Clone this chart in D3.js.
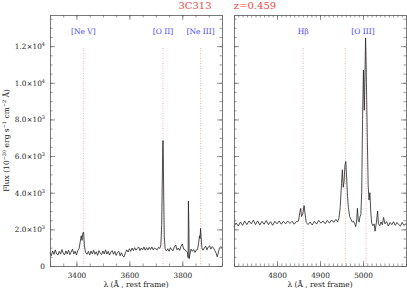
<!DOCTYPE html>
<html>
<head>
<meta charset="utf-8">
<script src="https://cdn.jsdelivr.net/npm/d3@7"></script>
<style>
  body { margin: 0; background: #fff; }
  text { font-family: "DejaVu Serif", serif; }
</style>
</head>
<body>
<div id="chart"></div>
<script>
// スペクトルデータ（左パネル：[Ne V]〜[Ne III] 付近）
const leftWave = [3300,3305,3310,3315,3320,3325,3330,3335,3340,3345,3350,3355,3360,3365,3370,3375,3380,3385,3390,3395,
  3400,3405,3410,3414,3418,3421,3424,3427,3430,3434,3440,3445,3450,3455,3460,3465,3470,3475,3480,3485,
  3490,3495,3500,3505,3510,3515,3520,3525,3530,3535,3540,3545,3550,3555,3560,3565,3570,3575,3580,3585,
  3590,3595,3600,3605,3610,3615,3620,3625,3630,3635,3640,3645,3650,3655,3660,3665,3670,3675,3680,3685,
  3690,3695,3700,3705,3710,3715,3719,3722,3724,3726,3727,3728,3730,3732,3735,3740,3745,3750,3755,3760,
  3765,3770,3775,3780,3785,3790,3795,3800,3805,3810,3815,3819,3822,3823,3825,3826,3829,3833,3838,3843,
  3848,3853,3858,3862,3865,3867,3869,3871,3874,3878,3883,3888,3893,3898,3903,3908,3913,3918,3923,3928,
  3932,3936,3940,3945,3950];
const leftFlux = [720,560,820,640,880,660,600,800,650,900,700,600,820,660,860,620,760,920,660,800,
  600,840,950,1300,1650,1400,1800,1850,1100,760,640,800,600,820,660,860,640,780,580,840,
  700,620,820,660,880,650,800,600,760,840,640,800,580,740,800,560,720,540,500,720,
  880,760,940,800,980,840,1000,860,960,1040,840,980,880,1040,860,1000,880,1020,900,1040,
  880,980,940,880,1020,960,1150,2200,4300,6400,6850,6200,3500,1600,950,820,940,800,1000,880,
  840,1040,1150,880,980,850,1080,1200,920,900,800,760,450,3550,2000,400,650,920,800,900,
  740,880,900,1300,1650,1500,2050,1600,1000,860,980,1080,880,1040,1100,920,1060,980,840,700,
  500,720,960,1060,1000];

// 右パネル：Hβ〜[O III] 付近
const rightWave = [4700,4705,4710,4715,4720,4725,4730,4735,4740,4745,4750,4755,4760,4765,4770,4775,4780,4785,4790,4795,
  4800,4805,4810,4815,4820,4825,4830,4835,4840,4845,4850,4853,4855,4857,4860,4863,4865,4868,4872,4877,
  4882,4887,4892,4897,4902,4907,4912,4917,4922,4927,4932,4937,4941,4944,4947,4950,4952,4954,4956,4958,
  4960,4962,4964,4966,4969,4972,4975,4978,4981,4983,4985,4987,4989,4991,4993,4995,4997,4999,5001,5003,
  5005,5006,5008,5010,5012,5014,5016,5018,5020,5023,5026,5028,5031,5034,5036,5039,5042,5045,5048,5051,
  5055,5059,5063,5067,5071,5075,5079,5083,5087,5091,5095,5100];
const rightFlux = [2150,2350,2180,2400,2220,2450,2260,2460,2300,2500,2260,2460,2240,2440,2280,2480,2260,2420,2220,2440,
  2300,2460,2280,2440,2300,2460,2320,2440,2280,2420,2450,2900,3150,2700,2850,3300,2900,2380,2260,2400,
  2240,2440,2290,2490,2340,2460,2310,2490,2340,2510,2380,2540,2420,2600,3200,4500,5250,4300,4600,5500,
  5700,4800,3800,3200,2700,2550,2400,2450,2300,2150,2400,3150,2500,2400,2700,2800,4000,8000,10700,8500,
  11000,12450,10000,7000,4400,3600,4000,3000,2350,2200,2300,1900,2350,3000,2300,2200,2400,2250,2650,2300,
  2420,2180,2380,2260,2420,2220,2380,2260,2180,2380,2220,2300];

// 輝線の名前と波長
const lineNames = ["[Ne V]", "[O II]", "[Ne III]", "Hβ", "[O III]"];
const labelWaves = [3426, 3727, 3869, 4861, 5000];
const dottedWaves = [3426, 3727, 3869, 4861, 4959, 5007];

// 目盛り
const yTickValues = [0, 2000, 4000, 6000, 8000, 10000, 12000];
const yTickMantissa = ["0", "2.0", "4.0", "6.0", "8.0", "1.0", "1.2"];
const yTickExponent = ["", "3", "3", "3", "3", "4", "4"];
const leftXTicks = [3400, 3600, 3800];
const rightXTicks = [4800, 4900, 5000];

const titleName = "3C313";
const titleZ = "z=0.459";

const svg = d3.select("#chart").append("svg")
  .attr("width", 407)
  .attr("height", 290);

const yTop = 15, yBottom = 266;
const y = d3.scaleLinear().domain([0, 13700]).range([yBottom, yTop]);

const panels = [
  { x0: 50, x1: 222, domain: [3300, 3950], major: leftXTicks, minor: d3.range(3300, 3951, 50),
    wave: leftWave, flux: leftFlux, yLabels: true },
  { x0: 234, x1: 406, domain: [4700, 5100], major: rightXTicks, minor: d3.range(4700, 5101, 10),
    wave: rightWave, flux: rightFlux, yLabels: false }
];

const frameColor = "#555";
const minorY = d3.range(0, 13701, 500);

// 副目盛りの描画
function minorAxis(g, axis, tx, ty) {
  g.append("g").attr("transform", `translate(${tx},${ty})`)
    .call(axis.tickSize(-2.5).tickSizeOuter(0).tickFormat(""))
    .call(s => {
      s.select(".domain").remove();
      s.selectAll(".tick line").attr("stroke", frameColor).attr("stroke-width", 0.6);
    });
}

function styleAxis(sel) {
  sel.select(".domain").attr("stroke", frameColor).attr("stroke-width", 0.8);
  sel.selectAll(".tick line").attr("stroke", frameColor).attr("stroke-width", 0.6);
  sel.selectAll("text").attr("font-family", "DejaVu Serif").attr("font-size", "7.3px").attr("fill", "#222");
}

panels.forEach(p => {
  const x = d3.scaleLinear().domain(p.domain).range([p.x0, p.x1]);
  const g = svg.append("g");

  // 輝線位置の点線
  dottedWaves.filter(w => w >= p.domain[0] && w <= p.domain[1]).forEach(w => {
    g.append("line")
      .attr("x1", x(w)).attr("x2", x(w))
      .attr("y1", 48).attr("y2", yBottom)
      .attr("stroke", "#f4a0a0")
      .attr("stroke-width", 0.8)
      .attr("stroke-dasharray", "1,1.5");
  });

  // スペクトル
  const pts = p.wave.map((w, i) => [w, p.flux[i]]);
  g.append("path")
    .datum(pts)
    .attr("fill", "none")
    .attr("stroke", "#222")
    .attr("stroke-width", 0.8)
    .attr("d", d3.line().x(d => x(d[0])).y(d => y(d[1])));

  // 輝線ラベル
  lineNames.forEach((n, i) => {
    const w = labelWaves[i];
    if (w < p.domain[0] || w > p.domain[1]) return;
    g.append("text")
      .attr("x", x(w)).attr("y", 34)
      .attr("text-anchor", "middle")
      .attr("font-size", "7.5px")
      .attr("fill", "#4a4aff")
      .text(n);
  });

  // 軸（目盛りは内向き）
  const bottomAxis = g.append("g").attr("transform", `translate(0,${yBottom})`)
    .call(d3.axisBottom(x).tickValues(p.major).tickSize(-5).tickSizeOuter(0).tickPadding(7).tickFormat(d3.format("d")));
  styleAxis(bottomAxis);
  minorAxis(g, d3.axisBottom(x).tickValues(p.minor), 0, yBottom);

  const topAxis = g.append("g").attr("transform", `translate(0,${yTop})`)
    .call(d3.axisTop(x).tickValues(p.major).tickSize(-5).tickSizeOuter(0).tickFormat(""));
  styleAxis(topAxis);
  minorAxis(g, d3.axisTop(x).tickValues(p.minor), 0, yTop);

  const leftAxis = g.append("g").attr("transform", `translate(${p.x0},0)`)
    .call(d3.axisLeft(y).tickValues(yTickValues).tickSize(-5).tickSizeOuter(0).tickPadding(5).tickFormat(""));
  styleAxis(leftAxis);
  if (p.yLabels) {
    leftAxis.selectAll(".tick text").each(function(d, i) {
      const t = d3.select(this);
      t.text(yTickMantissa[i] + (yTickExponent[i] ? "×10" : ""));
      if (yTickExponent[i]) {
        t.append("tspan").attr("dy", -3).attr("font-size", "5px").text(yTickExponent[i]);
      }
    });
  }
  minorAxis(g, d3.axisLeft(y).tickValues(minorY), p.x0, 0);

  const rightAxis = g.append("g").attr("transform", `translate(${p.x1},0)`)
    .call(d3.axisRight(y).tickValues(yTickValues).tickSize(-5).tickSizeOuter(0).tickFormat(""));
  styleAxis(rightAxis);
  minorAxis(g, d3.axisRight(y).tickValues(minorY), p.x1, 0);

  // x 軸ラベル
  g.append("text")
    .attr("x", (p.x0 + p.x1) / 2).attr("y", 287)
    .attr("text-anchor", "middle")
    .attr("font-size", "7.5px")
    .attr("fill", "#222")
    .text("λ (Å , rest frame)");
});

// y 軸ラベル
const yl = svg.append("text")
  .attr("transform", `translate(9,${(yTop + yBottom) / 2}) rotate(-90)`)
  .attr("text-anchor", "middle")
  .attr("font-size", "7.5px")
  .attr("fill", "#222");
yl.append("tspan").text("Flux (10");
yl.append("tspan").attr("dy", -3).attr("font-size", "5px").text("−30");
yl.append("tspan").attr("dy", 3).text(" erg s");
yl.append("tspan").attr("dy", -3).attr("font-size", "5px").text("−1");
yl.append("tspan").attr("dy", 3).text(" cm");
yl.append("tspan").attr("dy", -3).attr("font-size", "5px").text("−2");
yl.append("tspan").attr("dy", 3).text(" Å)");

// タイトル
svg.append("text").attr("x", 195).attr("y", 9).attr("text-anchor", "middle")
  .attr("font-size", "10px").attr("fill", "#f04848").text(titleName);
svg.append("text").attr("x", 255).attr("y", 9).attr("text-anchor", "middle")
  .attr("font-size", "10px").attr("fill", "#f04848").text(titleZ);
</script>
</body>
</html>
